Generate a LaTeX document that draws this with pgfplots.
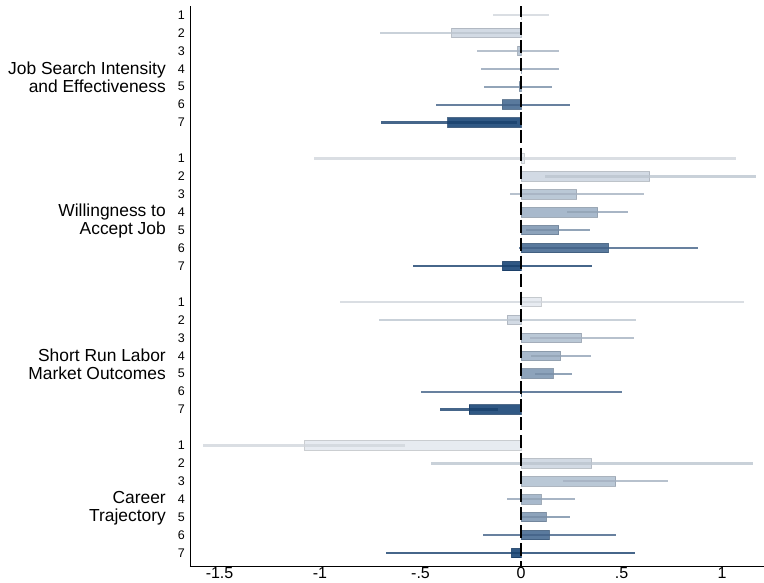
\documentclass[border=0pt]{standalone}
\usepackage{fontspec}
\setmainfont{Liberation Sans}
\usepackage{pgfplots}
\usepackage{pgfplotstable}
\pgfplotsset{compat=1.18}

\definecolor{navy}{HTML}{1A4677}
\colorlet{c1}{navy!12}
\colorlet{c2}{navy!22}
\colorlet{c3}{navy!33}
\colorlet{c4}{navy!42}
\colorlet{c5}{navy!55}
\colorlet{c6}{navy!80}
\colorlet{c7}{navy!100}

% y = 8*group + item ; est = point estimate ; lo/hi = confidence interval
\pgfplotstableread{
y  est     lo      hi
1  0.004  -0.141   0.137
9  0.015  -1.032   1.070
17 0.100  -0.902   1.110
25 -1.075 -1.582  -0.576
}\tone
\pgfplotstableread{
y  est     lo      hi
2  -0.345 -0.704   0.005
10 0.641   0.119   1.168
18 -0.069 -0.707   0.570
26 0.351  -0.449   1.153
}\ttwo
\pgfplotstableread{
y  est     lo      hi
3  -0.015 -0.221   0.189
11 0.277  -0.056   0.611
19 0.301   0.045   0.561
27 0.472   0.210   0.733
}\tthree
\pgfplotstableread{
y  est     lo      hi
4  0.003  -0.200   0.189
12 0.381   0.230   0.533
20 0.197   0.048   0.347
28 0.100  -0.071   0.271
}\tfour
\pgfplotstableread{
y  est     lo      hi
5  -0.008 -0.182   0.156
13 0.188   0.026   0.345
21 0.160   0.072   0.256
29 0.126   0.005   0.245
}\tfive
\pgfplotstableread{
y  est     lo      hi
6  -0.093 -0.423   0.243
14 0.436  -0.011   0.882
22 0.003  -0.498   0.500
30 0.141  -0.188   0.472
}\tsix
\pgfplotstableread{
y  est     lo      hi
7  -0.364 -0.698  -0.020
15 -0.093 -0.539   0.351
23 -0.258 -0.405  -0.113
31 -0.048 -0.670   0.568
}\tseven

\pgfplotsset{
  barst/.style={xbar, bar width=9.5pt, bar shift=0pt, fill=#1, fill opacity=0.9, draw=#1!80!black, draw opacity=0.7, line width=1pt, forget plot},
  cist/.style={draw=none, no markers, forget plot,
    error bars/.cd, x dir=both, x explicit, error mark=none,
    error bar style={draw=#1!92!black, line width=2.2pt, opacity=0.8}},
}

\begin{document}
\begin{tikzpicture}
\begin{axis}[
  at={(0,0)}, anchor=south west,
  scale only axis, width=574pt, height=560pt,
  xmin=-1.647, xmax=1.209,
  ymin=0.5, ymax=31.72, y dir=reverse,
  axis x line*=bottom, axis y line*=left,
  axis line style={line width=0.9pt, black},
  major tick length=0pt,
  xtick={-1.5,-1,-0.5,0,0.5,1},
  xticklabels={-1.5,-1,-.5,0,.5,1},
  ytick={1,2,3,4,5,6,7,9,10,11,12,13,14,15,17,18,19,20,21,22,23,25,26,27,28,29,30,31},
  yticklabels={1,2,3,4,5,6,7,1,2,3,4,5,6,7,1,2,3,4,5,6,7,1,2,3,4,5,6,7},
  xticklabel style={font=\fontsize{16}{17}\selectfont, inner sep=0pt, anchor=north, yshift=-1.5pt},
  yticklabel style={font=\fontsize{12.5}{13}\selectfont, inner sep=0pt, anchor=east, xshift=-5pt},
  clip=false,
]
\addplot[barst=c1] table[x=est,y=y]{\tone};
\addplot[cist=c1] table[x=est,y=y,x error plus expr=\thisrow{hi}-\thisrow{est},x error minus expr=\thisrow{est}-\thisrow{lo}]{\tone};
\addplot[barst=c2] table[x=est,y=y]{\ttwo};
\addplot[cist=c2] table[x=est,y=y,x error plus expr=\thisrow{hi}-\thisrow{est},x error minus expr=\thisrow{est}-\thisrow{lo}]{\ttwo};
\addplot[barst=c3] table[x=est,y=y]{\tthree};
\addplot[cist=c3] table[x=est,y=y,x error plus expr=\thisrow{hi}-\thisrow{est},x error minus expr=\thisrow{est}-\thisrow{lo}]{\tthree};
\addplot[barst=c4] table[x=est,y=y]{\tfour};
\addplot[cist=c4] table[x=est,y=y,x error plus expr=\thisrow{hi}-\thisrow{est},x error minus expr=\thisrow{est}-\thisrow{lo}]{\tfour};
\addplot[barst=c5] table[x=est,y=y]{\tfive};
\addplot[cist=c5] table[x=est,y=y,x error plus expr=\thisrow{hi}-\thisrow{est},x error minus expr=\thisrow{est}-\thisrow{lo}]{\tfive};
\addplot[barst=c6] table[x=est,y=y]{\tsix};
\addplot[cist=c6] table[x=est,y=y,x error plus expr=\thisrow{hi}-\thisrow{est},x error minus expr=\thisrow{est}-\thisrow{lo}]{\tsix};
\addplot[barst=c7] table[x=est,y=y]{\tseven};
\addplot[cist=c7] table[x=est,y=y,x error plus expr=\thisrow{hi}-\thisrow{est},x error minus expr=\thisrow{est}-\thisrow{lo}]{\tseven};

\draw[black, line width=1.6pt, dash pattern=on 13pt off 4.97pt, dash phase=2pt] (axis cs:0,0.5) -- (axis cs:0,31.72);

\begin{scope}[every node/.style={anchor=east, align=right, inner sep=0pt, font=\fontsize{17.4}{18}\selectfont}]
\node at ([xshift=-24pt]axis cs:-1.647,4.5) {Job Search Intensity\\and Effectiveness};
\node at ([xshift=-24pt]axis cs:-1.647,12.5) {Willingness to\\Accept Job};
\node at ([xshift=-24pt]axis cs:-1.647,20.5) {Short Run Labor\\Market Outcomes};
\node at ([xshift=-24pt]axis cs:-1.647,28.5) {Career\\Trajectory};
\end{scope}
\end{axis}
\pgfresetboundingbox
\useasboundingbox (-190pt,-17pt) rectangle (574pt,566pt);
\end{tikzpicture}
\end{document}
